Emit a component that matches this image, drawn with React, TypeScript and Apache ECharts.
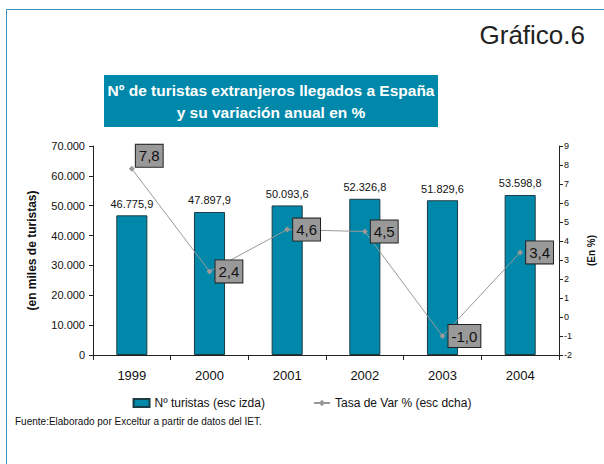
import React, { useEffect, useRef } from "react";
import * as echarts from "echarts";

const years = ["1999", "2000", "2001", "2002", "2003", "2004"];
const tourists = [46775.9, 47897.9, 50093.6, 52326.8, 51829.6, 53598.8];
const variation = [7.8, 2.4, 4.6, 4.5, -1.0, 3.4];

const fmtThousands = (v: number, dec: number) => {
  const s = v.toFixed(dec);
  const [i, d] = s.split(".");
  const neg = i.startsWith("-");
  const digits = neg ? i.slice(1) : i;
  const withDots = digits.replace(/\B(?=(\d{3})+(?!\d))/g, ".");
  return (neg ? "-" : "") + withDots + (d ? "," + d : "");
};

export default function App() {
  const ref = useRef<HTMLDivElement>(null);
  useEffect(() => {
    if (!ref.current) return;
    const chart = echarts.init(ref.current, undefined, { renderer: "svg" });
    const font = "Liberation Sans, Arial, sans-serif";
    chart.setOption({
      animation: false,
      textStyle: { fontFamily: font },
      grid: { left: 93, right: 45, top: 146, bottom: 109 },
      legend: {
        bottom: 50,
        left: "center",
        itemGap: 48,
        itemWidth: 16,
        itemHeight: 8,
        textStyle: { fontSize: 12, color: "#111", fontFamily: font },
        data: [
          { name: "Nº turistas (esc izda)", icon: "rect" },
          { name: "Tasa de Var % (esc dcha)" },
        ],
      },
      xAxis: {
        type: "category",
        data: years,
        axisLine: { lineStyle: { color: "#222" } },
        axisTick: { show: true, inside: false, length: 5, lineStyle: { color: "#222" } },
        axisLabel: { fontSize: 13, color: "#111", margin: 14 },
      },
      yAxis: [
        {
          type: "value",
          min: 0,
          max: 70000,
          interval: 10000,
          splitLine: { show: false },
          axisLine: { show: true, lineStyle: { color: "#222" } },
          axisTick: { show: true, length: 4, lineStyle: { color: "#222" } },
          axisLabel: {
            fontSize: 11,
            color: "#111",
            margin: 8,
            formatter: (v: number) => fmtThousands(v, 0),
          },
          name: "(en miles de turistas)",
          nameLocation: "middle",
          nameGap: 55,
          nameTextStyle: { fontSize: 12, fontWeight: "bold", color: "#111" },
        },
        {
          type: "value",
          min: -2,
          max: 9,
          interval: 1,
          position: "right",
          splitLine: { show: false },
          axisLine: { show: true, lineStyle: { color: "#222" } },
          axisTick: { show: true, length: 4, lineStyle: { color: "#222" } },
          axisLabel: { fontSize: 9, color: "#111", margin: 5 },
          name: "(En %)",
          nameLocation: "middle",
          nameGap: 27,
          nameRotate: 90,
          nameTextStyle: { fontSize: 10, fontWeight: "bold", color: "#111" },
        },
      ],
      series: [
        {
          name: "Nº turistas (esc izda)",
          type: "bar",
          data: tourists,
          barWidth: "40%",
          itemStyle: { color: "#0088AA", borderColor: "#1c3c44", borderWidth: 1 },
          label: {
            show: true,
            position: "top",
            distance: 6,
            fontSize: 11,
            color: "#111",
            formatter: (p: any) => fmtThousands(p.value, 1),
          },
          z: 1,
        },
        {
          name: "Tasa de Var % (esc dcha)",
          type: "line",
          yAxisIndex: 1,
          data: variation.map((v, i) =>
            i === 0 ? { value: v, label: { offset: [-2, -13] } } : v
          ),
          symbol: "diamond",
          symbolSize: 6,
          lineStyle: { color: "#999", width: 1 },
          itemStyle: { color: "#999" },
          label: {
            show: true,
            position: "right",
            distance: 3,
            fontSize: 15,
            color: "#111",
            backgroundColor: "#999",
            borderColor: "#222",
            borderWidth: 1,
            padding: [4, 3, 3, 3],
            formatter: (p: any) => p.value.toFixed(1).replace(".", ","),
          },
          z: 3,
        },
      ],
      graphic: [
        {
          type: "line",
          shape: { x1: 6.5, y1: 9.5, x2: 604, y2: 9.5 },
          style: { stroke: "#3d8fc0", lineWidth: 1 },
        },
        {
          type: "line",
          shape: { x1: 6.5, y1: 9.5, x2: 6.5, y2: 464 },
          style: { stroke: "#3d8fc0", lineWidth: 1 },
        },
        {
          type: "text",
          right: 19,
          top: 22,
          style: { text: "Gráfico.6", fontSize: 26, fill: "#222", fontFamily: font },
        },
        {
          type: "rect",
          shape: { x: 104, y: 75, width: 334, height: 52 },
          style: { fill: "#0088AA" },
        },
        {
          type: "text",
          x: 271,
          y: 101,
          style: {
            text: "Nº de turistas extranjeros llegados a España\ny su variación anual en %",
            fontSize: 15.5,
            fontWeight: "bold",
            fill: "#fff",
            align: "center",
            verticalAlign: "middle",
            lineHeight: 22,
            fontFamily: font,
          },
        },
        {
          type: "text",
          left: 15,
          top: 416,
          style: {
            text: "Fuente:Elaborado por Exceltur a partir de datos del IET.",
            fontSize: 10,
            fill: "#111",
            fontFamily: font,
          },
        },
      ],
    });
    return () => chart.dispose();
  }, []);
  return (
    <div
      ref={ref}
      style={{ position: "absolute", left: 0, top: 0, width: 604, height: 464, background: "#fff" }}
    />
  );
}
